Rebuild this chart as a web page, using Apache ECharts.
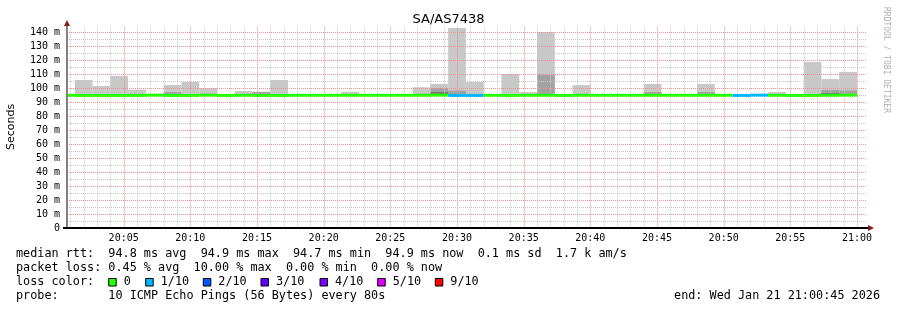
<!DOCTYPE html>
<html>
<head>
<meta charset="utf-8">
<script src="https://cdn.jsdelivr.net/npm/echarts@6/dist/echarts.min.js"></script>
<style>
html,body{margin:0;padding:0;background:#fff;}
#c{width:897px;height:310px;}
</style>
</head>
<body>
<div id="c"></div>
<script>
// ---- data (x in seconds since 20:00:00, one bin every 80 s) ----
const title = 'SA/AS7438';
const stepSec = 80;
const xMin = 45;      // 20:00:45
const xMax = 3645;    // 21:00:45
const xTickValues = [300,600,900,1200,1500,1800,2100,2400,2700,3000,3300,3600];
const yTickValues = [0,10,20,30,40,50,60,70,80,90,100,110,120,130,140];

// median rtt per bin (ms)
const medianRtt = [94.8,94.7,94.7,94.7,94.7,94.9,94.7,94.7,94.9,94.7,
                   94.8,94.7,94.7,94.8,94.8,94.8,94.8,94.8,94.8,94.8,
                   94.8,94.9,94.7,94.7,94.8,94.7,94.8,94.8,94.7,94.8,
                   94.8,94.8,94.8,94.8,94.8,94.8,94.8,94.8,94.7,94.9,
                   94.8,94.7,94.7,94.8,94.9];
// highest ping per bin (light smoke top), null = no visible smoke
const maxRtt = [null,105.7,101.4,108.6,98.8,null,102.1,104.3,100.0,null,
                97.9,97.4,105.7,null,null,null,97.1,null,null,null,
                100.5,102.9,142.9,104.3,null,110.0,97.1,140.0,null,102.1,
                null,null,null,102.9,null,null,102.9,null,null,null,
                97.1,null,118.6,106.4,111.4];
// inner (darker) smoke top
const innerRtt = [null,null,null,null,null,null,97.1,null,null,null,
                  null,97.1,null,null,null,null,null,null,null,null,
                  null,100.0,98.1,null,null,null,null,109.5,null,null,
                  null,null,null,97.1,null,null,97.1,null,null,null,
                  null,null,null,98.6,98.2];
// core (darkest) smoke top
const coreRtt = [null,null,null,null,null,null,null,null,null,null,
                 null,null,null,null,null,null,null,null,null,null,
                 null,97.1,null,null,null,null,null,null,null,null,
                 null,null,null,null,null,null,null,null,null,null,
                 null,null,null,96.4,null];
// lost pings (of 10) per bin
const lostPings = [0,0,0,0,0,0,0,0,0,0, 0,0,0,0,0,0,0,0,0,0,
                   0,0,1,1,0,0,0,0,0,0, 0,0,0,0,0,0,0,0,1,1,
                   0,0,0,0,0];

const lossColors = {0:'#26ff00',1:'#00b8ff',2:'#0059ff',3:'#5e00ff',4:'#7e00ff',5:'#dd00ff',9:'#ff0000'};
const legendLabels = ['0','1/10','2/10','3/10','4/10','5/10','9/10'];
const legendKeys = [0,1,2,3,4,5,9];

const statLines = [
  'median rtt:  94.8 ms avg  94.9 ms max  94.7 ms min  94.9 ms now  0.1 ms sd  1.7 k am/s',
  'packet loss: 0.45 % avg  10.00 % max  0.00 % min  0.00 % now',
  'loss color:',
  'probe:       10 ICMP Echo Pings (56 Bytes) every 80s'
];
const endText = 'end: Wed Jan 21 21:00:45 2026';

// ---- build ----
const binStart = k => Math.max(k * stepSec, xMin);
const binEnd = k => Math.min((k + 1) * stepSec, xMax);

function layer(arr) {
  const out = [];
  arr.forEach((v, k) => {
    if (v != null) out.push([binStart(k), binEnd(k), medianRtt[k], v]);
  });
  return out;
}
const medianData = medianRtt.map((m, k) => ({
  value: [binStart(k), binEnd(k), m, m],
  itemStyle: { color: lossColors[lostPings[k]] }
}));

function rectItem(params, api, color) {
  const s = api.value(0), e = api.value(1), lo = api.value(2), hi = api.value(3);
  const p1 = api.coord([s, hi]);
  const p2 = api.coord([e, lo]);
  return { type: 'rect', shape: { x: p1[0], y: p1[1], width: p2[0] - p1[0], height: p2[1] - p1[1] },
           style: { fill: color } };
}

// grid line positions
const vGrid = [];
for (let s = 60; s <= 3600; s += 60) vGrid.push([s, s % 300 === 0 ? 1 : 0]);
const hGrid = [];
for (let v = 5; v <= 140; v += 5) hGrid.push([v, v % 10 === 0 ? 1 : 0]);
const majorColor = '#f19090';
const minorColor = '#c9c9c9';

const mono = 'DejaVu Sans Mono';
const graphics = [];
graphics.push({ type: 'text', left: 'center', top: 13, style: { text: title, font: '13px "DejaVu Sans"', fill: '#000' } });
graphics.push({ type: 'text', x: 11, y: 127, rotation: Math.PI / 2,
  style: { text: 'Seconds', font: '11px "DejaVu Sans"', fill: '#000', align: 'center', verticalAlign: 'middle' } });
graphics.push({ type: 'text', x: 886, y: 60, rotation: -Math.PI / 2,
  style: { text: 'RRDTOOL / TOBI OETIKER', font: '8px "DejaVu Sans Mono"', fill: '#b0b0b0', align: 'center', verticalAlign: 'middle' } });
graphics.push({ type: 'line', z: 10, shape: { x1: 67, y1: 25, x2: 67, y2: 229 }, style: { stroke: '#808080', lineWidth: 2 } });
graphics.push({ type: 'line', z: 10, shape: { x1: 63, y1: 228, x2: 869, y2: 228 }, style: { stroke: '#000', lineWidth: 2 } });
graphics.push({ type: 'polygon', z: 10, shape: { points: [[64, 26], [70, 26], [67, 20]] }, style: { fill: '#8b1a1a' } });
graphics.push({ type: 'polygon', z: 10, shape: { points: [[868, 225], [868, 231], [874, 228]] }, style: { fill: '#8b1a1a' } });
const lineY = [254.3, 268.3, 282.2, 296.2];
statLines.forEach((t, i) => {
  graphics.push({ type: 'text', x: 16, y: lineY[i],
    style: { text: t, font: '11.8px "' + mono + '"', fill: '#000', verticalAlign: 'middle' } });
});
const squareX = [108.7, 145.7, 203.3, 261, 320, 377.7, 435.3];
legendKeys.forEach((key, i) => {
  graphics.push({ type: 'rect', shape: { x: squareX[i], y: 278.5, width: 7.5, height: 7.5 },
    style: { fill: lossColors[key], stroke: '#000', lineWidth: 1 } });
  graphics.push({ type: 'text', x: squareX[i] + 15, y: lineY[2],
    style: { text: legendLabels[i], font: '11.8px "' + mono + '"', fill: '#000', verticalAlign: 'middle' } });
});
graphics.push({ type: 'text', x: 880, y: lineY[3],
  style: { text: endText, font: '11.8px "' + mono + '"', fill: '#000', align: 'right', verticalAlign: 'middle' } });

const chart = echarts.init(document.getElementById('c'), null, { renderer: 'canvas' });
chart.setOption({
  animation: false,
  backgroundColor: '#fff',
  grid: { left: 67, right: 30, top: 26.4, bottom: 82, containLabel: false },
  xAxis: {
    type: 'value', min: xMin, max: xMax,
    splitLine: { show: false }, axisLine: { show: false }, axisTick: { show: false },
    axisLabel: {
      customValues: xTickValues, margin: 5,
      fontFamily: mono, fontSize: 10, color: '#000',
      formatter: v => { const h = 20 + Math.floor(v / 3600); const m = Math.round((v % 3600) / 60); return h + ':' + String(m).padStart(2, '0'); }
    }
  },
  yAxis: {
    type: 'value', min: 0, max: 144,
    splitLine: { show: false }, axisLine: { show: false }, axisTick: { show: false },
    axisLabel: {
      customValues: yTickValues, margin: 7,
      fontFamily: mono, fontSize: 10, color: '#000',
      formatter: v => v === 0 ? '0' : v + ' m'
    }
  },
  graphic: graphics,
  series: [
    { type: 'custom', name: 'smoke', z: 1, data: layer(maxRtt), encode: { x: [0, 1], y: [2, 3] }, silent: true,
      renderItem: (p, api) => rectItem(p, api, '#c8c8c8') },
    { type: 'custom', name: 'smoke2', z: 1, data: layer(innerRtt), encode: { x: [0, 1], y: [2, 3] }, silent: true,
      renderItem: (p, api) => rectItem(p, api, '#a2a2a2') },
    { type: 'custom', name: 'smoke3', z: 1, data: layer(coreRtt), encode: { x: [0, 1], y: [2, 3] }, silent: true,
      renderItem: (p, api) => rectItem(p, api, '#767676') },
    { type: 'custom', name: 'vgrid', z: 2, data: vGrid, encode: { x: 0 }, silent: true,
      renderItem: (params, api) => {
        const cs = params.coordSys;
        const px = Math.round(api.coord([api.value(0), 0])[0]) + 0.5;
        return { type: 'line', shape: { x1: px, y1: cs.y, x2: px, y2: cs.y + cs.height },
                 style: { stroke: api.value(1) ? majorColor : minorColor, lineWidth: 1, lineDash: [1, 1] } };
      } },
    { type: 'custom', name: 'hgrid', z: 2, data: hGrid, encode: { y: 0 }, silent: true,
      renderItem: (params, api) => {
        const cs = params.coordSys;
        const py = Math.round(api.coord([xMin, api.value(0)])[1]) + 0.5;
        return { type: 'line', shape: { x1: cs.x, y1: py, x2: cs.x + cs.width, y2: py },
                 style: { stroke: api.value(1) ? majorColor : minorColor, lineWidth: 1, lineDash: [1, 1] } };
      } },
    { type: 'custom', name: 'median', z: 3, data: medianData, encode: { x: [0, 1], y: [2, 3] }, silent: true,
      renderItem: (p, api) => {
        const s = api.value(0), e = api.value(1), m = api.value(2);
        const a = api.coord([s, m]), b = api.coord([e, m]);
        return { type: 'rect', shape: { x: a[0], y: a[1] - 1.5, width: b[0] - a[0], height: 3 },
                 style: { fill: api.visual('color') } };
      } }
  ]
});
</script>
</body>
</html>
